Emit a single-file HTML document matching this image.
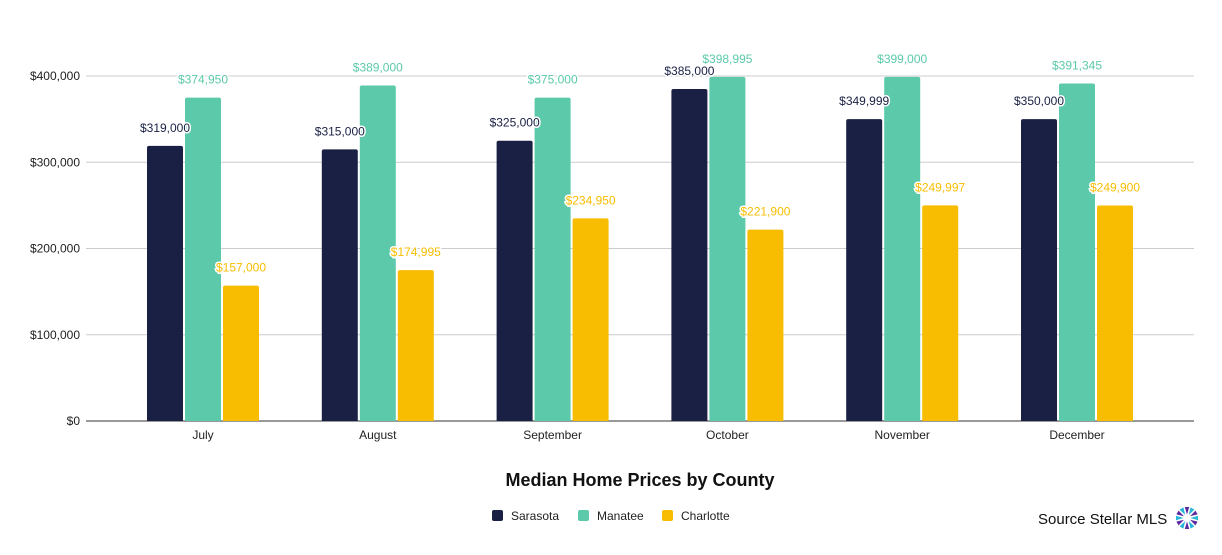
<!DOCTYPE html>
<html><head><meta charset="utf-8"><style>
body{margin:0;background:#fff;width:1222px;height:550px;overflow:hidden;font-family:"Liberation Sans",sans-serif}
svg text{font-family:"Liberation Sans",sans-serif}
</style></head><body>
<svg id="chart" width="1222" height="550">
<g id="grid"></g>
<g id="bars"></g>
<g id="labels"></g>
<text x="640" y="486" text-anchor="middle" font-size="18" font-weight="bold" fill="#111">Median Home Prices by County</text>
<g>
 <g><rect x="492" y="510" width="11" height="11" rx="2" fill="#1a2044"/><text x="511" y="520" font-size="12" fill="#222">Sarasota</text></g>
 <g><rect x="578" y="510" width="11" height="11" rx="2" fill="#5bc9aa"/><text x="597" y="520" font-size="12" fill="#222">Manatee</text></g>
 <g><rect x="662" y="510" width="11" height="11" rx="2" fill="#f8bd00"/><text x="681" y="520" font-size="12" fill="#222">Charlotte</text></g>
</g>
<text x="1038" y="524" font-size="15" fill="#111">Source Stellar MLS</text>
<g transform="translate(1187,518)" id="logo"></g>
</svg>
<script>
const categories=["July","August","September","October","November","December"];
const sarasota=[319000,315000,325000,385000,349999,350000];
const manatee=[374950,389000,375000,398995,399000,391345];
const charlotte=[157000,174995,234950,221900,249997,249900];
const yTicks=[0,100000,200000,300000,400000];
const seriesNames=["sarasota","manatee","charlotte"];
const colors=["#1a2044","#5bc9aa","#f8bd00"];
const labelColors=["#1a2044","#5bc9aa","#f8bd00"];
const NS="http://www.w3.org/2000/svg";
const y0=421,yTop=76,vmax=400000;
const y=v=>y0-(v/vmax)*(y0-yTop);
const x=i=>203+i*174.8;
const grid=document.getElementById('grid'),bars=document.getElementById('bars'),labels=document.getElementById('labels');
function mk(t,a,p){const e=document.createElementNS(NS,t);for(const k in a)e.setAttribute(k,a[k]);p.appendChild(e);return e;}
const fmt=v=>"$"+v.toLocaleString("en-US");
yTicks.forEach(t=>{
 const l=mk('line',{x1:86,x2:1194,y1:y(t),y2:y(t),stroke:t===0?'#333':'#ccc','stroke-width':1},grid);
 
 
 const tx=mk('text',{x:80,y:y(t)+4,'text-anchor':'end','font-size':12,fill:'#222'},grid);
 tx.textContent=fmt(t);
 
 
});
categories.forEach((c,i)=>{
 const tx=mk('text',{x:x(i),y:439,'text-anchor':'middle','font-size':12,fill:'#222'},grid);
 tx.textContent=c;
 
 
});
[sarasota,manatee,charlotte].forEach((s,k)=>{
 s.forEach((v,i)=>{
  const cx=x(i)+(k-1)*38;
  const b=mk('path',{d:`M${cx-18},${y0} V${y(v)+2} q0,-2 2,-2 H${cx+16} q2,0 2,2 V${y0} Z`,fill:colors[k]},bars);
  
  
  const t=mk('text',{x:cx,y:y(v)-14,'text-anchor':'middle','font-size':12,fill:labelColors[k],stroke:'#fff','stroke-width':3,'paint-order':'stroke'},labels);
  t.textContent=fmt(v);
  
  
 });
});
const logo=document.getElementById('logo');
for(let a=0;a<12;a++){
 const p=mk('path',{d:'M0,-3.5 L-2.2,-11 L2.2,-11 Z',fill:a%2?'#27b5d8':'#5b2a9e',transform:`rotate(${a*30})`},logo);
 
 
}
</script>
</body></html>
